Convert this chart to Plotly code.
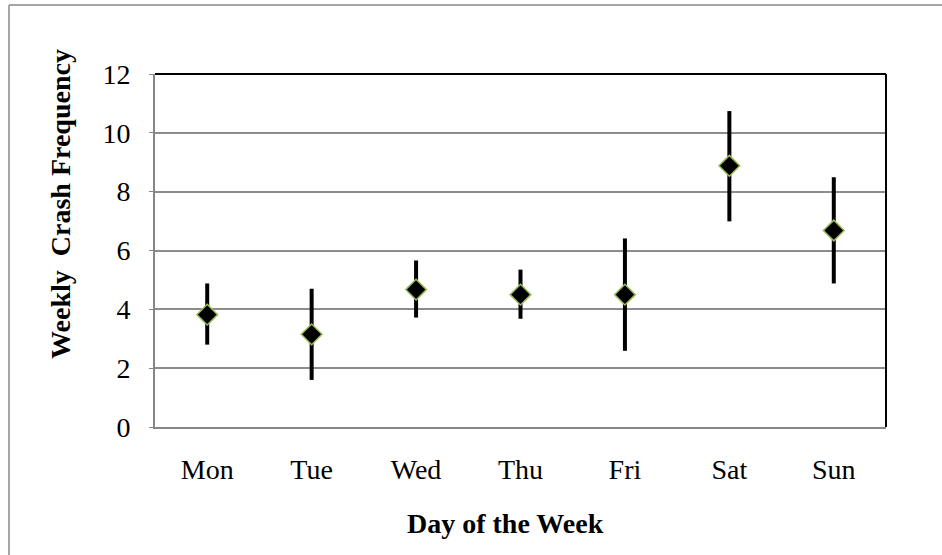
import plotly.graph_objects as go

days = ['Mon', 'Tue', 'Wed', 'Thu', 'Fri', 'Sat', 'Sun']
mean_crashes = [3.82, 3.15, 4.67, 4.50, 4.50, 8.88, 6.68]
err_plus = [1.06, 1.55, 0.99, 0.85, 1.91, 1.86, 1.81]
err_minus = [1.02, 1.55, 0.95, 0.82, 1.91, 1.89, 1.80]
y_ticks = [0, 2, 4, 6, 8, 10, 12]

FONT = 'Liberation Serif, Times New Roman, serif'

fig = go.Figure()

fig.add_trace(go.Scatter(
    x=days,
    y=mean_crashes,
    mode='markers',
    marker=dict(symbol='diamond', size=16, color='black',
                line=dict(color='#9BBB59', width=1.5)),
    error_y=dict(type='data', symmetric=False, array=err_plus,
                 arrayminus=err_minus, color='black', thickness=4, width=0),
    showlegend=False
))

fig.update_layout(
    width=942, height=555,
    margin=dict(l=155, r=56, t=74, b=128),
    paper_bgcolor='white', plot_bgcolor='white',
    font=dict(family=FONT, size=28, color='black'),
    xaxis=dict(
        type='category', range=[-0.5, 6.5],
        showgrid=False, showline=True, linecolor='#868686', linewidth=2,
        ticks='', ticklabelstandoff=16, zeroline=False
    ),
    yaxis=dict(
        range=[0, 12], tickvals=y_ticks,
        showgrid=True, gridcolor='#8c8c8c', gridwidth=1.5,
        showline=True, linecolor='#868686', linewidth=2,
        ticks='outside', ticklen=4, tickcolor='#868686', ticklabelstandoff=13,
        zeroline=False
    ),
    annotations=[
        dict(text='<b>Day of the Week</b>', xref='paper', yref='paper',
             x=0.48, y=-0.272, xanchor='center', yanchor='middle',
             showarrow=False, font=dict(size=28)),
        dict(text='<b>Weekly  Crash Frequency</b>', xref='paper', yref='paper',
             x=-0.1286, y=0.632, xanchor='center', yanchor='middle', textangle=-90,
             showarrow=False, font=dict(size=28)),
    ],
    shapes=[
        # black top and right frame of the plot area
        dict(type='line', xref='paper', yref='paper', x0=0, x1=1, y0=1, y1=1,
             line=dict(color='black', width=2)),
        dict(type='line', xref='paper', yref='paper', x0=1, x1=1, y0=0, y1=1,
             line=dict(color='black', width=2)),
        # outer chart border (top and left visible)
        dict(type='line', xref='paper', yref='paper', x0=-0.1997, x1=1.08,
             y0=1.1955, y1=1.1955, line=dict(color='#a6a6a6', width=2)),
        dict(type='line', xref='paper', yref='paper', x0=-0.1997, x1=-0.1997,
             y0=-0.4, y1=1.1955, line=dict(color='#a6a6a6', width=2)),
    ]
)

fig.write_html('out.html', config={'displayModeBar': False},
               post_script="document.body.style.margin='0';")
